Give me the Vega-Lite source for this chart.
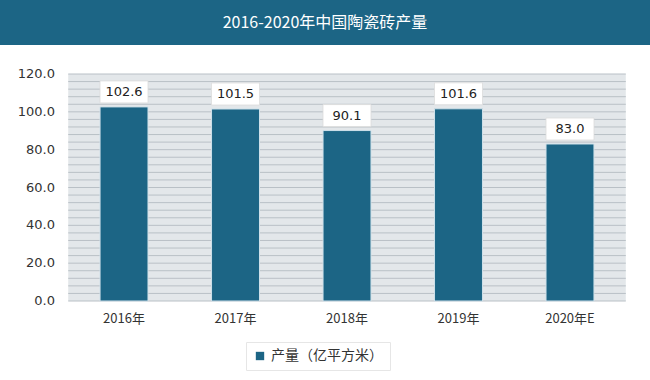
{
  "$schema": "https://vega.github.io/schema/vega-lite/v6.json",
  "padding": 0,
  "background": "white",
  "spacing": 23,
  "config": {
    "font": "Noto Sans CJK SC",
    "view": {"stroke": null}
  },
  "datasets": {
    "prod": [
      {"year": "2016年", "value": 102.6, "series": "产量（亿平方米）"},
      {"year": "2017年", "value": 101.5, "series": "产量（亿平方米）"},
      {"year": "2018年", "value": 90.1, "series": "产量（亿平方米）"},
      {"year": "2019年", "value": 101.6, "series": "产量（亿平方米）"},
      {"year": "2020年E", "value": 83.0, "series": "产量（亿平方米）"}
    ],
    "grid": [
      {"g": 0}, {"g": 4}, {"g": 8}, {"g": 12}, {"g": 16}, {"g": 20}, {"g": 24}, {"g": 28},
      {"g": 32}, {"g": 36}, {"g": 40}, {"g": 44}, {"g": 48}, {"g": 52}, {"g": 56}, {"g": 60},
      {"g": 64}, {"g": 68}, {"g": 72}, {"g": 76}, {"g": 80}, {"g": 84}, {"g": 88}, {"g": 92},
      {"g": 96}, {"g": 100}, {"g": 104}, {"g": 108}, {"g": 112}, {"g": 116}, {"g": 120}
    ],
    "ylab": [
      {"g": 0}, {"g": 20}, {"g": 40}, {"g": 60}, {"g": 80}, {"g": 100}, {"g": 120}
    ],
    "banner": [{"t": "2016-2020年中国陶瓷砖产量"}]
  },
  "vconcat": [
    {
      "width": 650,
      "height": 45,
      "view": {"fill": "#1c6585", "stroke": null},
      "data": {"name": "banner"},
      "mark": {"type": "text", "color": "white", "fontSize": 16, "font": "Noto Sans CJK SC", "baseline": "middle", "align": "center"},
      "encoding": {"text": {"field": "t"}}
    },
    {
      "width": 650,
      "height": 227,
      "view": {"fill": null, "stroke": null},
      "layer": [
        {
          "data": {"values": [{"a": 1}]},
          "mark": {"type": "rect", "color": "#e3e7ea"},
          "encoding": {
            "x": {
              "datum": "2016年", "type": "nominal", "bandPosition": -0.664,
              "scale": {"domain": ["2016年", "2017年", "2018年", "2019年", "2020年E"], "paddingInner": 0.57, "paddingOuter": 0.7, "align": 0.641},
              "axis": {"title": null, "labelAngle": 0, "domain": false, "ticks": false, "grid": false, "bandPosition": 0.5, "labelFontSize": 13, "labelColor": "#333", "labelPadding": 11, "labelFont": "Noto Sans CJK SC"}
            },
            "x2": {"datum": "2020年E", "bandPosition": 1.664},
            "y": {
              "datum": 0, "type": "quantitative",
              "scale": {"domain": [0, 120], "nice": false},
              "axis": null
            },
            "y2": {"datum": 120}
          }
        },
        {
          "data": {"name": "grid"},
          "mark": {"type": "rule", "color": "#b9c0c6", "strokeWidth": 1},
          "encoding": {
            "x": {"datum": "2016年", "type": "nominal", "bandPosition": -0.664},
            "x2": {"datum": "2020年E", "bandPosition": 1.664},
            "y": {"field": "g", "type": "quantitative"}
          }
        },
        {
          "data": {"name": "ylab"},
          "mark": {"type": "text", "align": "right", "baseline": "middle", "fontSize": 13, "color": "#333", "font": "DejaVu Sans"},
          "encoding": {
            "x": {"datum": "2016年", "type": "nominal", "bandPosition": -0.94},
            "y": {"field": "g", "type": "quantitative"},
            "text": {"field": "g", "type": "quantitative", "format": ".1f"}
          }
        },
        {
          "data": {"name": "prod"},
          "encoding": {
            "x": {"field": "year", "type": "nominal", "sort": null},
            "y": {"field": "value", "type": "quantitative"}
          },
          "layer": [
            {
              "mark": {"type": "bar", "stroke": "#cfe1ea", "strokeWidth": 1},
              "encoding": {
                "color": {
                  "field": "series", "type": "nominal",
                  "scale": {"range": ["#1c6585"]},
                  "legend": {
                    "title": null, "orient": "none", "legendX": 246, "legendY": 342, "direction": "horizontal",
                    "symbolType": "square", "symbolSize": 70, "symbolStrokeWidth": 0,
                    "labelFontSize": 14, "labelColor": "#333", "labelFont": "Noto Sans CJK SC",
                    "fillColor": "white", "strokeColor": "#e6e6e6", "padding": 7
                  }
                }
              }
            },
            {
              "mark": {"type": "tick", "color": "white", "opacity": 1, "size": 48, "thickness": 22, "yOffset": -15, "stroke": "#dcdcdc", "strokeWidth": 0.8}
            },
            {
              "mark": {"type": "text", "dy": -15, "fontSize": 13, "color": "#222", "font": "DejaVu Sans", "baseline": "middle"},
              "encoding": {"text": {"field": "value", "type": "quantitative", "format": ".1f"}}
            }
          ]
        }
      ]
    }
  ]
}
